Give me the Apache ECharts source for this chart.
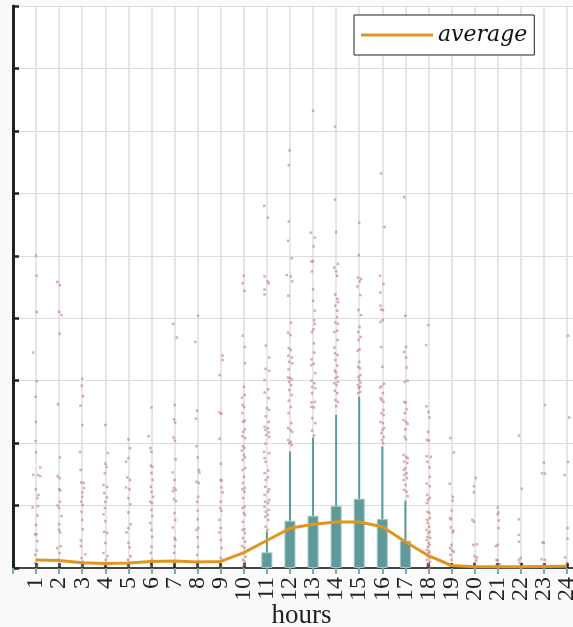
<!DOCTYPE html>
<html>
<head>
<meta charset="utf-8">
<script src="https://cdn.jsdelivr.net/npm/echarts@6/dist/echarts.min.js"></script>
<style>
  html, body { margin: 0; padding: 0; background: #fafafa; }
  #chart { width: 573px; height: 627px; }
</style>
</head>
<body>
<div id="chart"></div>
<script>
// Hour-of-day tick labels
const hourLabels = ['1','2','3','4','5','6','7','8','9','10','11','12','13','14','15','16','17','18','19','20','21','22','23','24'];

// Hourly average
const averageValues = [0.128, 0.12, 0.085, 0.074, 0.08, 0.106, 0.112, 0.096, 0.106, 0.245, 0.44, 0.635, 0.70, 0.737, 0.737, 0.66, 0.42, 0.197, 0.04, 0.02, 0.02, 0.02, 0.025, 0.03];

// Box height and upper whisker for the hours that have one
const boxHours = [11, 12, 13, 14, 15, 16, 17];
const boxTops = [0.25, 0.757, 0.837, 0.992, 1.109, 0.784, 0.437];
const whiskerTops = [0.585, 1.866, 2.09, 2.45, 2.746, 1.946, 1.08];

// Individual observations per hour: [hour (with spread), value]
const obsH01 = [[1.00,5.00],[1.02,4.68],[1.03,4.10],[0.87,3.45],[1.03,2.99],[0.98,2.74],[0.99,2.34],[0.98,2.03],[1.00,1.85],[1.18,1.61],[0.87,1.49],[1.08,1.49],[1.18,1.47],[0.99,1.26],[1.10,1.17],[1.06,1.12],[1.08,0.99],[0.85,0.97],[1.06,0.84],[1.00,0.69],[0.95,0.54],[1.02,0.54],[1.06,0.43],[1.04,0.28],[0.97,0.21],[1.03,0.13],[0.96,0.08],[1.05,0.03]];
const obsH02 = [[1.92,4.58],[2.03,4.53],[2.00,4.10],[2.10,4.05],[2.02,3.75],[1.95,2.62],[2.03,1.77],[1.93,1.47],[2.03,1.44],[2.00,1.26],[2.05,1.24],[2.03,1.06],[1.93,1.00],[2.00,0.96],[2.10,0.83],[2.00,0.70],[2.00,0.61],[2.04,0.57],[2.07,0.35],[1.92,0.32],[2.02,0.24],[1.97,0.13],[2.04,0.05]];
const obsH03 = [[3.00,3.03],[2.98,2.92],[3.03,2.75],[2.92,2.60],[3.00,2.29],[2.90,1.86],[2.93,1.57],[2.95,1.37],[3.06,1.36],[3.07,1.28],[3.00,1.21],[3.00,1.14],[2.95,1.06],[3.02,1.01],[2.97,0.90],[3.00,0.77],[3.02,0.62],[2.94,0.44],[2.94,0.35],[3.13,0.22],[2.97,0.16],[3.03,0.10],[2.98,0.03]];
const obsH04 = [[4.00,2.29],[4.10,1.84],[4.00,1.67],[4.05,1.62],[3.98,1.52],[3.92,1.33],[4.08,1.30],[3.95,1.20],[4.07,1.13],[4.00,1.06],[3.98,0.96],[3.92,0.86],[4.00,0.75],[3.95,0.58],[4.08,0.56],[4.00,0.40],[3.92,0.24],[4.10,0.19],[4.02,0.13],[3.97,0.05]];
const obsH05 = [[5.00,2.06],[5.07,1.92],[5.00,1.76],[4.90,1.70],[4.95,1.45],[5.07,1.41],[4.90,1.29],[5.05,1.26],[5.00,1.12],[5.08,1.02],[5.00,0.89],[5.10,0.70],[5.00,0.64],[4.92,0.57],[5.00,0.40],[5.05,0.33],[5.10,0.19],[4.97,0.13],[5.03,0.08],[4.98,0.03]];
const obsH06 = [[6.00,2.57],[5.88,2.11],[5.95,1.92],[6.00,1.86],[5.97,1.64],[6.04,1.62],[6.00,1.52],[6.05,1.41],[5.97,1.30],[6.00,1.22],[6.07,1.14],[5.95,1.06],[6.03,1.04],[6.00,0.93],[6.04,0.83],[5.95,0.72],[6.00,0.61],[6.03,0.50],[6.00,0.34],[5.97,0.24],[6.02,0.13],[5.98,0.03]];
const obsH07 = [[6.94,3.91],[7.10,3.69],[7.00,2.61],[6.97,2.38],[7.03,2.33],[6.95,2.09],[7.02,2.04],[7.05,1.74],[6.92,1.53],[7.00,1.41],[6.97,1.28],[7.05,1.25],[6.93,1.23],[6.97,1.10],[7.06,1.07],[7.00,0.88],[7.03,0.77],[6.92,0.65],[7.00,0.48],[7.04,0.45],[7.00,0.35],[6.98,0.24],[7.02,0.08]];
const obsH08 = [[8.02,4.04],[7.90,3.62],[7.97,2.52],[7.92,2.39],[7.95,1.95],[8.00,1.77],[8.05,1.57],[8.08,1.53],[7.95,1.38],[8.05,1.36],[8.02,1.14],[7.98,1.06],[8.00,0.92],[8.00,0.78],[8.03,0.64],[7.95,0.61],[8.00,0.49],[8.02,0.34],[7.98,0.21],[8.03,0.10],[7.97,0.03]];
const obsH09 = [[9.08,3.40],[9.08,3.33],[8.95,3.09],[8.95,2.49],[9.03,2.47],[8.95,2.07],[9.00,1.67],[8.98,1.41],[9.05,1.40],[9.03,1.29],[9.08,1.21],[9.00,1.06],[8.97,0.96],[9.03,0.92],[8.95,0.77],[9.00,0.64],[8.95,0.57],[9.00,0.45],[9.04,0.32],[9.00,0.16],[8.97,0.08],[9.03,0.02]];
const obsH10 = [[10.00,4.68],[9.95,4.56],[10.03,4.44],[9.95,3.72],[10.05,3.54],[10.05,3.28],[10.00,2.90],[10.04,2.77],[9.92,2.73],[9.94,2.61],[10.02,2.58],[9.94,2.48],[10.04,2.36],[9.96,2.34],[10.05,2.22],[9.97,2.18],[9.94,2.11],[10.06,2.08],[9.96,1.95],[10.03,1.92],[9.92,1.88],[10.00,1.81],[10.05,1.77],[9.95,1.73],[10.06,1.60],[9.94,1.57],[10.00,1.46],[9.96,1.36],[10.05,1.28],[9.93,1.26],[10.02,1.22],[9.96,1.12],[10.04,0.98],[9.94,0.96],[10.00,0.88],[10.06,0.85],[9.96,0.74],[10.03,0.62],[9.94,0.61],[10.05,0.56],[9.97,0.48],[10.06,0.42],[9.92,0.35],[10.03,0.32],[10.00,0.24],[10.08,0.18],[9.96,0.13],[10.05,0.10],[10.00,0.05],[9.97,0.02]];
const obsH11 = [[10.88,5.80],[11.05,5.61],[10.90,4.67],[11.03,4.59],[11.08,4.56],[10.90,4.46],[10.90,4.38],[10.95,3.56],[11.10,3.37],[10.94,3.19],[11.10,3.16],[10.90,3.01],[11.06,2.86],[10.90,2.81],[11.08,2.72],[11.00,2.56],[11.10,2.53],[10.95,2.43],[11.08,2.34],[10.90,2.26],[11.05,2.24],[10.94,2.21],[11.08,2.17],[10.97,2.13],[11.10,2.10],[10.94,1.99],[10.88,1.86],[11.10,1.84],[10.90,1.76],[10.94,1.70],[11.06,1.56],[10.90,1.52],[11.05,1.45],[10.94,1.41],[10.92,1.30],[11.10,1.26],[11.05,1.22],[10.90,1.17],[11.10,1.09],[10.92,1.06],[11.05,1.04],[10.90,0.98],[11.08,0.93],[10.95,0.90],[11.04,0.85],[10.92,0.82],[11.06,0.77],[10.94,0.66],[11.03,0.61]];
const obsH12 = [[11.98,6.69],[11.95,6.45],[11.95,5.55],[11.92,5.24],[12.08,4.96],[11.86,4.69],[12.04,4.67],[12.10,4.59],[11.93,4.36],[12.05,3.93],[11.92,3.77],[12.03,3.73],[11.95,3.52],[12.04,3.49],[11.93,3.40],[12.08,3.37],[11.96,3.30],[12.10,3.28],[11.94,3.18],[11.92,3.05],[12.00,3.04],[12.08,3.02],[11.96,2.98],[12.06,2.93],[11.97,2.85],[12.07,2.77],[11.95,2.68],[12.04,2.58],[11.94,2.48],[12.06,2.32],[11.92,2.24],[12.02,2.21],[12.10,2.18],[11.92,2.05],[12.04,2.02],[11.97,2.00],[12.08,1.97]];
const obsH13 = [[13.00,7.32],[12.90,5.37],[13.08,5.29],[13.03,5.15],[12.93,4.91],[13.00,4.91],[12.95,4.75],[13.00,4.46],[13.00,4.28],[13.08,4.12],[13.05,3.97],[13.08,3.91],[13.02,3.82],[12.95,3.78],[13.04,3.60],[13.05,3.45],[12.93,3.34],[13.03,3.27],[12.92,3.25],[13.10,3.12],[12.93,3.00],[13.05,2.96],[12.96,2.90],[13.10,2.88],[12.95,2.80],[13.08,2.66],[12.93,2.65],[12.93,2.58],[13.04,2.57],[12.97,2.40],[13.10,2.32],[12.95,2.20],[13.05,2.12]];
const obsH14 = [[13.95,7.07],[13.95,5.90],[14.00,5.38],[14.08,4.87],[13.92,4.81],[14.00,4.75],[14.04,4.68],[13.96,4.38],[14.06,4.31],[14.08,4.26],[13.96,4.20],[14.05,4.12],[14.04,4.02],[13.97,3.93],[14.08,3.91],[14.05,3.80],[13.92,3.78],[14.06,3.65],[13.92,3.53],[13.95,3.44],[14.06,3.41],[13.97,3.33],[14.05,3.24],[13.94,3.16],[14.00,3.13],[14.06,3.06],[13.97,3.04],[14.08,2.98],[13.92,2.96],[14.02,2.93],[13.94,2.84],[14.05,2.80],[13.97,2.69],[14.08,2.66],[14.00,2.59]];
const obsH15 = [[15.00,5.53],[14.98,5.01],[14.95,4.65],[15.08,4.63],[15.02,4.59],[14.92,4.51],[15.05,4.37],[14.97,4.13],[15.08,4.05],[15.02,3.86],[14.96,3.78],[15.06,3.70],[14.97,3.65],[15.02,3.50],[14.93,3.48],[15.00,3.30],[14.95,3.22],[15.03,3.20],[15.06,3.09],[14.97,3.06],[15.00,3.01],[15.06,2.97],[14.95,2.93],[15.04,2.90],[14.98,2.88],[15.05,2.82],[14.96,2.80]];
const obsH16 = [[15.95,6.32],[16.10,5.46],[15.90,4.68],[16.05,4.55],[15.92,4.41],[15.92,4.20],[15.95,4.14],[16.03,4.13],[16.02,3.97],[15.92,3.94],[15.95,3.54],[16.00,3.22],[16.08,2.95],[15.97,2.91],[15.90,2.89],[16.03,2.80],[15.93,2.72],[15.97,2.69],[16.05,2.66],[16.05,2.53],[15.96,2.48],[16.06,2.45],[15.92,2.34],[16.03,2.32],[16.08,2.24],[16.00,2.21],[15.96,2.16],[16.06,2.10],[15.98,2.05],[16.04,2.00]];
const obsH17 = [[16.95,5.94],[17.00,4.04],[17.03,3.54],[16.95,3.46],[17.03,3.37],[17.05,3.21],[16.97,2.98],[17.10,3.00],[16.95,2.66],[17.02,2.65],[17.05,2.54],[16.97,2.48],[16.92,2.37],[17.03,2.34],[17.10,2.31],[17.00,2.22],[16.97,2.10],[17.03,2.06],[16.92,1.81],[17.03,1.78],[17.10,1.76],[16.94,1.70],[17.08,1.68],[17.00,1.60],[16.93,1.57],[17.05,1.52],[16.96,1.49],[17.07,1.44],[16.92,1.41],[17.00,1.33],[16.94,1.25],[17.05,1.22],[17.10,1.15]];
const obsH18 = [[18.00,3.89],[17.90,3.57],[17.92,2.59],[18.00,2.50],[18.04,2.41],[17.98,2.18],[17.94,2.05],[18.02,2.04],[17.92,1.79],[18.10,1.78],[17.95,1.70],[18.05,1.61],[18.06,1.46],[17.92,1.35],[18.06,1.31],[17.94,1.17],[18.06,1.12],[17.97,1.09],[17.94,1.04],[17.96,0.90],[18.04,0.88],[18.06,0.80],[17.94,0.77],[17.96,0.72],[18.03,0.66],[17.92,0.61],[18.06,0.58],[18.00,0.56],[17.96,0.50],[18.08,0.48],[17.93,0.45],[18.00,0.40],[18.05,0.37],[17.97,0.34],[17.94,0.29],[18.04,0.26],[18.00,0.24],[17.96,0.19],[18.05,0.16],[17.93,0.13],[18.07,0.10],[18.00,0.07],[17.95,0.04],[18.06,0.02]];
const obsH19 = [[18.95,2.08],[19.10,1.85],[18.92,1.35],[19.06,1.14],[19.05,1.08],[19.00,0.92],[18.94,0.80],[18.97,0.78],[18.97,0.65],[19.08,0.60],[19.05,0.57],[19.00,0.37],[18.94,0.32],[19.02,0.28],[19.10,0.26],[18.95,0.21],[19.00,0.13]];
const obsH20 = [[20.05,1.44],[19.97,1.31],[19.97,1.21],[19.90,0.77],[19.97,0.74],[19.95,0.37],[20.10,0.38],[20.00,0.19],[20.10,0.17],[20.08,0.12],[20.00,0.08]];
const obsH21 = [[21.00,0.97],[21.03,0.89],[21.00,0.86],[21.05,0.76],[21.03,0.64],[21.00,0.37],[20.92,0.35],[20.95,0.13],[21.00,0.12],[21.10,0.06],[20.95,0.05]];
const obsH22 = [[21.92,2.12],[22.05,1.27],[21.92,0.78],[21.92,0.53],[21.92,0.42],[22.00,0.16],[21.92,0.13],[21.95,0.08]];
const obsH23 = [[23.05,2.61],[23.00,1.69],[22.92,1.52],[23.05,1.51],[22.95,0.41],[23.00,0.40],[22.90,0.14],[23.05,0.13],[23.00,0.06]];
const obsH24 = [[24.05,3.72],[24.10,2.41],[24.05,1.70],[23.90,1.49],[24.03,0.64],[24.03,0.47],[23.92,0.17],[24.00,0.08]];

const observations = [].concat(obsH01, obsH02, obsH03, obsH04, obsH05, obsH06, obsH07, obsH08,
  obsH09, obsH10, obsH11, obsH12, obsH13, obsH14, obsH15, obsH16, obsH17, obsH18,
  obsH19, obsH20, obsH21, obsH22, obsH23, obsH24);

const teal = '#5f9a9a';
const orange = '#e0961e';
const serif = '"Liberation Serif", "DejaVu Serif", serif';

const chart = echarts.init(document.getElementById('chart'), null, { renderer: 'canvas' });

chart.setOption({
  animation: false,
  backgroundColor: '#fafafa',
  grid: {
    left: 13, top: 6, width: 577, height: 562,
    outerBoundsMode: 'none', containLabel: false,
    show: true, backgroundColor: '#ffffff', borderWidth: 0
  },
  legend: {
    data: [{ name: 'average', icon: 'rect' }],
    left: 354, top: 15,
    padding: [8, 7, 8, 7],
    itemWidth: 72, itemHeight: 3,
    backgroundColor: '#ffffff',
    borderColor: '#222222', borderWidth: 1, borderRadius: 0,
    itemStyle: { color: orange, borderWidth: 0 },
    textStyle: {
      fontFamily: '"DejaVu Serif", serif', fontStyle: 'italic',
      fontSize: 22, lineHeight: 24, color: '#111111'
    }
  },
  xAxis: [
    {
      type: 'value', min: 0, max: 25, interval: 1,
      name: 'hours', nameLocation: 'middle', nameGap: 34, nameMoveOverlap: false,
      nameTextStyle: { fontFamily: serif, fontSize: 27, color: '#222222' },
      axisLine: { show: true, lineStyle: { color: '#444444', width: 2 } },
      axisTick: { show: true, inside: false, length: 6, lineStyle: { color: '#7aaeae', width: 2 } },
      axisLabel: {
        rotate: 90, margin: 9,
        fontFamily: serif, fontSize: 24, color: '#222222',
        formatter: v => (v >= 1 && v <= hourLabels.length) ? hourLabels[v - 1] : ''
      },
      splitLine: { show: true, lineStyle: { color: '#dedede', width: 1.5 } }
    },
    {
      type: 'value', min: 0, max: 25, interval: 1, position: 'bottom',
      axisLine: { show: false },
      axisTick: { show: true, inside: true, length: 5, lineStyle: { color: '#222222', width: 2.5 } },
      axisLabel: { show: false },
      splitLine: { show: false }
    }
  ],
  yAxis: {
    type: 'value', min: 0, max: 9, interval: 1,
    axisLine: { show: true, lineStyle: { color: '#222222', width: 3 } },
    axisTick: { show: true, inside: true, length: 6, lineStyle: { color: '#222222', width: 2.5 } },
    axisLabel: { show: false },
    splitLine: { show: true, lineStyle: { color: '#dcdcdc', width: 1.2 } }
  },
  series: [
    {
      name: 'observations', type: 'scatter', z: 2,
      data: observations,
      symbol: 'rect', symbolSize: 2.5,
      itemStyle: { color: 'rgba(190,110,110,0.7)' },
      silent: true
    },
    {
      name: 'box', type: 'bar', z: 3,
      data: boxHours.map((h, i) => [h, boxTops[i]]),
      barWidth: 11,
      itemStyle: { color: teal, borderColor: '#9cc4c4', borderWidth: 1 }
    },
    {
      name: 'whisker', type: 'custom', z: 4,
      data: boxHours.map((h, i) => [h, boxTops[i], whiskerTops[i]]),
      encode: { x: 0, y: [1, 2] },
      renderItem: (params, api) => {
        const lo = api.coord([api.value(0), api.value(1)]);
        const hi = api.coord([api.value(0), api.value(2)]);
        return {
          type: 'line',
          shape: { x1: lo[0], y1: lo[1], x2: hi[0], y2: hi[1] },
          style: { stroke: teal, lineWidth: 2 }
        };
      }
    },
    {
      name: 'average', type: 'line', z: 5,
      data: averageValues.map((v, i) => [i + 1, v]),
      symbol: 'none',
      lineStyle: { color: orange, width: 3 },
      itemStyle: { color: orange }
    }
  ]
});
</script>
</body>
</html>
